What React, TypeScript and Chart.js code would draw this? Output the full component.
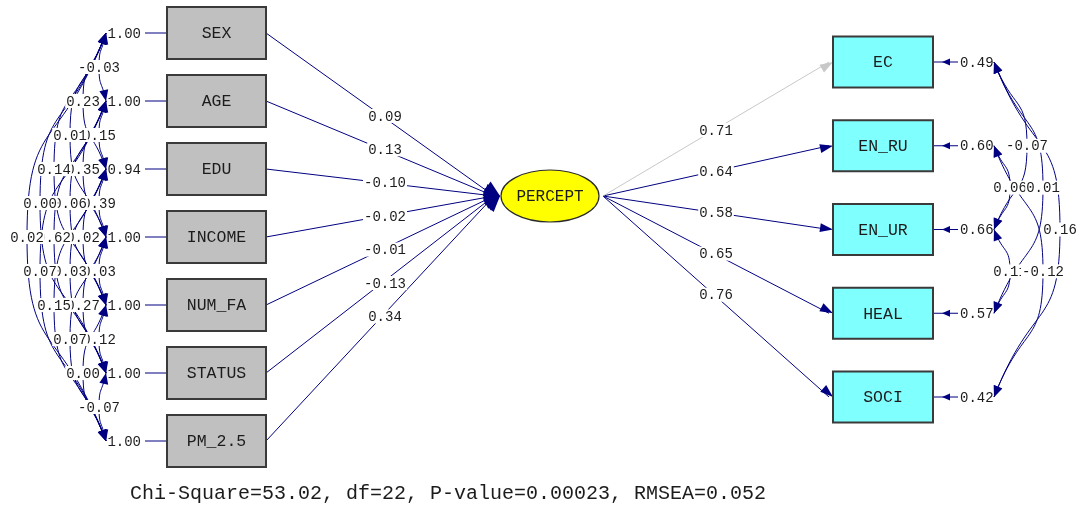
import React, { useEffect, useRef } from "react";
import { Chart, registerables } from "chart.js";

Chart.register(...registerables);

// ---------- DATA ----------
const exoVars = ["SEX", "AGE", "EDU", "INCOME", "NUM_FA", "STATUS", "PM_2.5"];
const exoVariances = [1.0, 1.0, 0.94, 1.0, 1.0, 1.0, 1.0];
const gammaPaths = [0.09, 0.13, -0.1, -0.02, -0.01, -0.13, 0.34];
const exoCorrFrom = [0, 0, 0, 1, 0, 1, 0, 1, 2, 0, 1, 2, 1, 2, 3, 2, 3, 3, 4, 4, 5];
const exoCorrTo = [1, 2, 3, 2, 4, 3, 5, 4, 3, 6, 5, 4, 6, 5, 4, 6, 5, 6, 5, 6, 6];
const exoCorrValues = [-0.03, 0.23, 0.01, 0.15, 0.14, 0.35, 0.0, 0.06, 0.39, 0.02, 0.62, 0.02, 0.07, 0.03, 0.03, 0.15, 0.27, 0.07, 0.12, 0.0, -0.07];
const latentName = "PERCEPT";
const endoVars = ["EC", "EN_RU", "EN_UR", "HEAL", "SOCI"];
const loadings = [0.71, 0.64, 0.58, 0.65, 0.76];
const errorVariances = [0.49, 0.6, 0.66, 0.57, 0.42];
const errCovFrom = [0, 1, 0, 0, 2, 1];
const errCovTo = [2, 2, 3, 4, 3, 4];
const errCovValues = [-0.07, 0.06, 0.01, 0.16, 0.11, -0.12];
const fitText = "Chi-Square=53.02, df=22, P-value=0.00023, RMSEA=0.052";

// ---------- LAYOUT ----------
const W = 1077;
const H = 505;
const NAVY = "#000080";
const LIGHT = "#c8c8c8";
const TXT = "#1c1c1c";
const MONO = '"Liberation Mono", "DejaVu Sans Mono", monospace';

const leftY = (i: number) => 33 + 68 * i;
const rightY = (i: number) => 62 + 83.75 * i;
const LBOX = { x0: 167, x1: 266, h: 52 };
const RBOX = { x0: 833, x1: 933, h: 51 };
const ELL = { cx: 550, cy: 196, rx: 49, ry: 26 };
const LTIP = { x: 500, y: 196 };
const RSTART = { x: 603, y: 196 };
const LCOV_X = 106;
const LLAG_X = [0, 99, 83, 70, 54, 40, 27];
const RCOV_X = 994;
const RLAG_X = [0, 1010, 1027, 1043, 1060];
const LPATH_LABEL_X = 385;
const RPATH_LABEL_X = 716;
const CURVE_TENSION = 0.6;

const fmt = (v: number) => (v < 0 ? "-" : "") + Math.abs(v).toFixed(2);

function buildDatasets() {
  const ds: any[] = [];
  const line = (pts: { x: number; y: number }[], color = NAVY, tension = 0) => ({
    data: pts,
    showLine: true,
    borderColor: color,
    borderWidth: 1,
    pointRadius: 0,
    tension,
    clip: false,
  });
  exoVars.forEach((_, i) => {
    ds.push(line([{ x: LBOX.x1, y: leftY(i) }, { x: LTIP.x - 6, y: LTIP.y }]));
    ds.push(line([{ x: 145, y: leftY(i) }, { x: LBOX.x0, y: leftY(i) }]));
  });
  endoVars.forEach((_, i) => {
    ds.push(line([{ x: RSTART.x, y: RSTART.y }, { x: RBOX.x0 - 4, y: rightY(i) }], i === 0 ? LIGHT : NAVY));
    ds.push(line([{ x: RBOX.x1, y: rightY(i) }, { x: 958, y: rightY(i) }]));
  });
  exoCorrFrom.forEach((a, k) => {
    const b = exoCorrTo[k];
    const ya = leftY(a), yb = leftY(b);
    ds.push(line([{ x: LCOV_X, y: ya }, { x: LLAG_X[b - a], y: (ya + yb) / 2 }, { x: LCOV_X, y: yb }], NAVY, CURVE_TENSION));
  });
  errCovFrom.forEach((a, k) => {
    const b = errCovTo[k];
    const ya = rightY(a), yb = rightY(b);
    ds.push(line([{ x: RCOV_X, y: ya }, { x: RLAG_X[b - a], y: (ya + yb) / 2 }, { x: RCOV_X, y: yb }], NAVY, CURVE_TENSION));
  });
  return ds;
}

const diagramPlugin = {
  id: "diagram",
  afterDatasetsDraw(chart: any) {
    const ctx: CanvasRenderingContext2D = chart.ctx;
    const sx = chart.scales.x, sy = chart.scales.y;
    const X = (v: number) => sx.getPixelForValue(v);
    const Y = (v: number) => sy.getPixelForValue(v);

    const arrow = (tx: number, ty: number, fx: number, fy: number, len: number, hw: number, color = NAVY) => {
      const px = X(tx), py = Y(ty);
      const dx = X(fx) - px, dy = Y(fy) - py;
      const d = Math.hypot(dx, dy) || 1;
      const ux = dx / d, uy = dy / d;
      const bx = px + ux * len, by = py + uy * len;
      ctx.save();
      ctx.fillStyle = color;
      ctx.beginPath();
      ctx.moveTo(px, py);
      ctx.lineTo(bx - uy * hw, by + ux * hw);
      ctx.lineTo(bx + uy * hw, by - ux * hw);
      ctx.closePath();
      ctx.fill();
      ctx.restore();
    };

    const label = (text: string, x: number, y: number, align: CanvasTextAlign = "center", bg = true, font = `14px ${MONO}`) => {
      ctx.save();
      ctx.font = font;
      ctx.textBaseline = "middle";
      ctx.textAlign = align;
      const w = ctx.measureText(text).width;
      const px = X(x), py = Y(y);
      if (bg) {
        let left = px - w / 2;
        if (align === "right") left = px - w;
        if (align === "left") left = px;
        ctx.fillStyle = "#ffffff";
        ctx.fillRect(left - 1, py - 7, w + 2, 14);
      }
      ctx.fillStyle = TXT;
      ctx.fillText(text, px, py + 1);
      ctx.restore();
    };

    // path labels
    gammaPaths.forEach((g, i) => {
      const y0 = leftY(i);
      const t = (LPATH_LABEL_X - LBOX.x1) / (LTIP.x - LBOX.x1);
      label(fmt(g), LPATH_LABEL_X, y0 + t * (LTIP.y - y0));
    });
    loadings.forEach((l, i) => {
      const y1 = rightY(i);
      const t = (RPATH_LABEL_X - RSTART.x) / (RBOX.x0 - RSTART.x);
      label(fmt(l), RPATH_LABEL_X, RSTART.y + t * (y1 - RSTART.y));
    });

    // covariance labels (low lag first)
    const lOrder = exoCorrFrom.map((_, k) => k).sort((p, q) => (exoCorrTo[p] - exoCorrFrom[p]) - (exoCorrTo[q] - exoCorrFrom[q]));
    lOrder.forEach((k) => {
      const a = exoCorrFrom[k], b = exoCorrTo[k];
      label(fmt(exoCorrValues[k]), LLAG_X[b - a], (leftY(a) + leftY(b)) / 2);
    });
    const rOrder = errCovFrom.map((_, k) => k).sort((p, q) => (errCovTo[p] - errCovFrom[p]) - (errCovTo[q] - errCovFrom[q]));
    rOrder.forEach((k) => {
      const a = errCovFrom[k], b = errCovTo[k];
      label(fmt(errCovValues[k]), RLAG_X[b - a], (rightY(a) + rightY(b)) / 2);
    });

    // variance labels
    exoVariances.forEach((v, i) => label(fmt(v), 141, leftY(i), "right", false));
    errorVariances.forEach((v, i) => label(fmt(v), 960, rightY(i), "left", false));

    // arrowheads
    exoVars.forEach((_, i) => arrow(LTIP.x, LTIP.y, LBOX.x1, leftY(i), 16, 6.5));
    endoVars.forEach((_, i) => {
      arrow(RBOX.x0, rightY(i), RSTART.x, RSTART.y, 13, 4.5, i === 0 ? LIGHT : NAVY);
      arrow(942, rightY(i), 958, rightY(i), 8, 3.5);
    });
    exoCorrFrom.forEach((a, k) => {
      const b = exoCorrTo[k];
      const mx = LLAG_X[b - a], my = (leftY(a) + leftY(b)) / 2;
      arrow(LCOV_X, leftY(a), mx, my, 11, 4.5);
      arrow(LCOV_X, leftY(b), mx, my, 11, 4.5);
    });
    errCovFrom.forEach((a, k) => {
      const b = errCovTo[k];
      const mx = RLAG_X[b - a], my = (rightY(a) + rightY(b)) / 2;
      arrow(RCOV_X, rightY(a), mx, my, 11, 4.5);
      arrow(RCOV_X, rightY(b), mx, my, 11, 4.5);
    });

    // boxes
    const box = (name: string, x0: number, x1: number, yc: number, h: number, fill: string) => {
      const px0 = X(x0), px1 = X(x1), py0 = Y(yc - h / 2), py1 = Y(yc + h / 2);
      ctx.save();
      ctx.fillStyle = fill;
      ctx.fillRect(px0, py0, px1 - px0, py1 - py0);
      ctx.strokeStyle = "#3a3a3a";
      ctx.lineWidth = 2;
      ctx.strokeRect(px0, py0, px1 - px0, py1 - py0);
      ctx.restore();
      label(name, (x0 + x1) / 2, yc, "center", false, `16.5px ${MONO}`);
    };
    exoVars.forEach((n, i) => box(n, LBOX.x0, LBOX.x1, leftY(i), LBOX.h, "#c0c0c0"));
    endoVars.forEach((n, i) => box(n, RBOX.x0, RBOX.x1, rightY(i), RBOX.h, "#80ffff"));

    // latent ellipse
    ctx.save();
    ctx.beginPath();
    ctx.ellipse(X(ELL.cx), Y(ELL.cy), ELL.rx, ELL.ry, 0, 0, Math.PI * 2);
    ctx.fillStyle = "#ffff00";
    ctx.fill();
    ctx.strokeStyle = "#2a2a2a";
    ctx.lineWidth = 1.2;
    ctx.stroke();
    ctx.restore();
    label(latentName, ELL.cx, ELL.cy, "center", false, `16px ${MONO}`);

    // fit statistics
    label(fitText, 448, 493, "center", false, `20px ${MONO}`);
  },
};

export default function App() {
  const ref = useRef<HTMLCanvasElement | null>(null);
  useEffect(() => {
    if (!ref.current) return;
    const chart = new Chart(ref.current, {
      type: "scatter",
      data: { datasets: buildDatasets() },
      options: {
        animation: false,
        responsive: false,
        maintainAspectRatio: false,
        devicePixelRatio: 1,
        events: [],
        layout: { padding: 0 },
        plugins: { legend: { display: false }, tooltip: { enabled: false } },
        scales: {
          x: { type: "linear", min: 0, max: W, display: false },
          y: { type: "linear", min: 0, max: H, reverse: true, display: false },
        },
      },
      plugins: [diagramPlugin],
    } as any);
    return () => chart.destroy();
  }, []);
  return (
    <div style={{ position: "fixed", left: 0, top: 0, width: W, height: H, background: "#fff" }}>
      <canvas ref={ref} width={W} height={H} style={{ display: "block" }} />
    </div>
  );
}
